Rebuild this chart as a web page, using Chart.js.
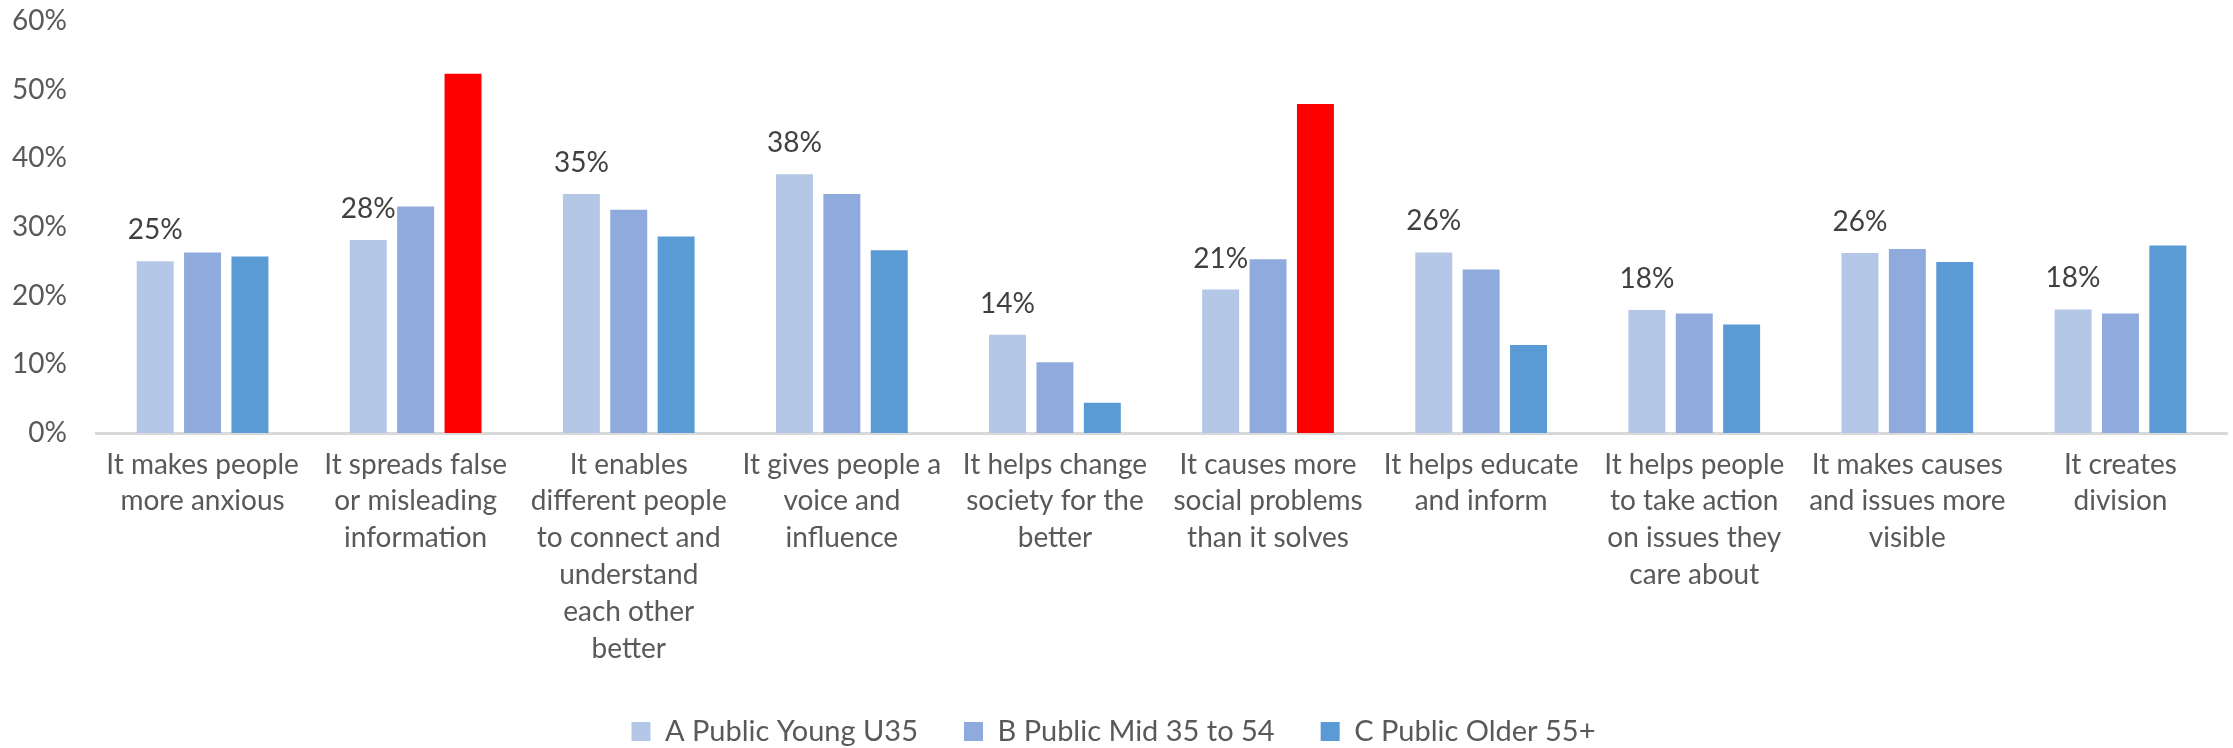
<!DOCTYPE html>
<html>
<head>
<meta charset="utf-8">
<script src="https://cdn.jsdelivr.net/npm/chart.js@4"></script>
<style>
  html, body { margin: 0; padding: 0; background: #fff; }
  #chart { display: block; }
</style>
</head>
<body>
<canvas id="chart" width="2233" height="748"></canvas>
<script>
const categories = [
  ["It makes people", "more anxious"],
  ["It spreads false", "or misleading", "information"],
  ["It enables", "different people", "to connect and", "understand", "each other", "better"],
  ["It gives people a", "voice and", "influence"],
  ["It helps change", "society for the", "better"],
  ["It causes more", "social problems", "than it solves"],
  ["It helps educate", "and inform"],
  ["It helps people", "to take action", "on issues they", "care about"],
  ["It makes causes", "and issues more", "visible"],
  ["It creates", "division"]
];
const seriesNames = ["A Public Young U35", "B Public Mid 35 to 54", "C Public Older 55+"];
const youngValues = [25.0, 28.1, 34.8, 37.7, 14.3, 20.9, 26.3, 17.9, 26.2, 18.0];
const midValues = [26.3, 33.0, 32.5, 34.8, 10.3, 25.3, 23.8, 17.4, 26.8, 17.4];
const olderValues = [25.7, 52.3, 28.6, 26.6, 4.4, 47.9, 12.8, 15.8, 24.9, 27.3];
const yTicks = [0, 10, 20, 30, 40, 50, 60];
const highlighted = [1, 5]; // older bars drawn in red

const FONT = "Lato, 'Open Sans', sans-serif";
const PLOT_TOP = 21;
const PLOT_BOTTOM = 433;

// labels above the young-people bars only
const valueLabels = {
  id: "valueLabels",
  afterDatasetsDraw(chart) {
    const ctx = chart.ctx;
    const meta = chart.getDatasetMeta(0);
    ctx.save();
    ctx.font = "28px " + FONT;
    ctx.fillStyle = "#404040";
    ctx.textAlign = "center";
    ctx.textBaseline = "middle";
    meta.data.forEach((bar, i) => {
      ctx.fillText(Math.round(youngValues[i]) + "%", bar.x, bar.y - 31);
    });
    ctx.restore();
  }
};

// nudge the legend a little lower, like the original
const legendShift = {
  id: "legendShift",
  afterLayout(chart) {
    chart.legend.top += 8;
    chart.legend.bottom += 8;
  }
};

const olderColors = olderValues.map((v, i) => highlighted.includes(i) ? "#FF0000" : "#5B9BD5");

new Chart(document.getElementById("chart"), {
  type: "bar",
  data: {
    labels: categories,
    datasets: [
      { label: seriesNames[0], data: youngValues, backgroundColor: "#B4C7E7" },
      { label: seriesNames[1], data: midValues, backgroundColor: "#8FAADC" },
      { label: seriesNames[2], data: olderValues, backgroundColor: olderColors }
    ]
  },
  options: {
    responsive: false,
    animation: false,
    devicePixelRatio: 1,
    layout: { padding: { top: 0, right: 6, left: 0, bottom: 0 } },
    datasets: { bar: { categoryPercentage: 0.667, barPercentage: 0.78, borderWidth: 0 } },
    plugins: {
      tooltip: { enabled: false },
      legend: {
        position: "bottom",
        labels: {
          font: { family: FONT, size: 29 },
          color: "#595959",
          boxWidth: 19,
          boxHeight: 19,
          padding: 46,
          generateLabels(chart) {
            const fills = ["#B4C7E7", "#8FAADC", "#5B9BD5"];
            return chart.data.datasets.map((d, i) => ({
              text: d.label, fillStyle: fills[i], strokeStyle: fills[i], lineWidth: 0, datasetIndex: i, fontColor: "#595959"
            }));
          }
        }
      }
    },
    scales: {
      x: {
        grid: { display: false, drawTicks: false },
        border: { display: true, color: "#D9D9D9", width: 3 },
        ticks: {
          autoSkip: false, maxRotation: 0, padding: 13,
          color: "#595959",
          font: { family: FONT, size: 28, lineHeight: 1.32 }
        },
        afterFit(scale) {
          scale.height = scale.chart.height - PLOT_BOTTOM - scale.chart.legend.height;
        }
      },
      y: {
        min: 0, max: 60,
        grid: { display: false, drawTicks: false },
        border: { display: false },
        afterBuildTicks(scale) { scale.ticks = yTicks.map(v => ({ value: v })); },
        ticks: {
          padding: 29,
          color: "#595959",
          font: { family: FONT, size: 28 },
          callback: v => v + "%"
        },
        afterFit(scale) {
          scale.width = 96;
          scale.paddingTop = PLOT_TOP;
          scale.paddingBottom = 0;
        }
      }
    }
  },
  plugins: [valueLabels, legendShift]
});
</script>
</body>
</html>
